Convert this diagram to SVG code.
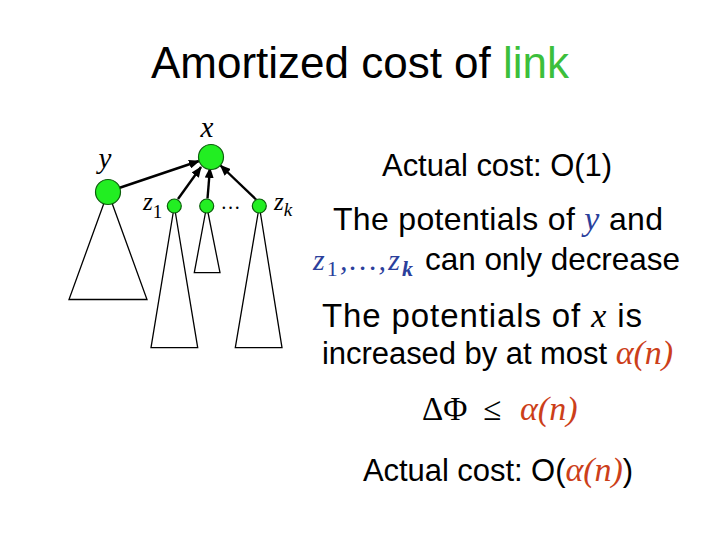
<svg xmlns="http://www.w3.org/2000/svg" width="720" height="540" viewBox="0 0 720 540">
<style>
.s{font-family:"Liberation Sans",Arial,sans-serif;fill:#000}
.m{font-family:"Liberation Serif","Times New Roman",serif;font-style:italic}
.b{fill:#2b3f9c}
.r{fill:#cc3f1a;font-family:"Liberation Serif","Times New Roman",serif;font-style:italic}
.tri{fill:none;stroke:#000;stroke-width:1.3}
.big{fill:#22ee22;stroke:#0b5e0b;stroke-width:1.2}
.edge{stroke:#000;stroke-width:2.4;fill:none;marker-end:url(#ah)}
</style>
<defs>
<marker id="ah" markerWidth="11" markerHeight="9" refX="10" refY="4.5" orient="auto" markerUnits="userSpaceOnUse">
<path d="M0,0 L11,4.5 L0,9 z" fill="#000"/>
</marker>
</defs>
<rect width="720" height="540" fill="#fff"/>
<text class="s" x="360" y="78" font-size="44" text-anchor="middle">Amortized cost of <tspan fill="#3cbf3c">link</tspan></text>

<g id="trees">
<polygon class="tri" points="108,192 69,299.5 147,299.5"/>
<polygon class="tri" points="174.3,206 151,347.7 197.7,347.7"/>
<polygon class="tri" points="206.7,206 194.3,272.7 220,272.7"/>
<polygon class="tri" points="259.3,206 235.3,347.7 282,347.7"/>
</g>
<g id="connectors">
<line class="edge" x1="119" y1="188" x2="199" y2="161"/>
<line class="edge" x1="178" y1="199" x2="201" y2="167"/>
<line class="edge" x1="207.5" y1="198.5" x2="210" y2="168"/>
<line class="edge" x1="256" y1="199.5" x2="220.5" y2="165.5"/>
</g>
<g id="node-x">
<circle class="big" cx="211" cy="157" r="12.5"/>
<text class="m" x="207" y="137" font-size="29" text-anchor="middle">x</text>
</g>
<g id="node-y">
<circle class="big" cx="108" cy="192" r="12.5"/>
<text class="m" x="105" y="168" font-size="29" text-anchor="middle">y</text>
</g>
<g id="node-z1">
<circle class="big" cx="174.3" cy="206" r="7"/>
<text class="m" x="143" y="210" font-size="25">z<tspan font-style="normal" font-size="19" dy="8">1</tspan></text>
</g>
<g id="node-mid">
<circle class="big" cx="206.7" cy="206" r="7"/>
<text class="m" x="222" y="209" font-size="20" fill="#000">…</text>
</g>
<g id="node-zk">
<circle class="big" cx="259.3" cy="206" r="7"/>
<text class="m" x="274" y="210" font-size="25">z<tspan font-size="19" dy="6">k</tspan></text>
</g>

<g id="texts">
<text class="s" x="382" y="176" font-size="31" textLength="230" lengthAdjust="spacing">Actual cost: O(1)</text>
<text class="s" x="333" y="230" font-size="32" textLength="330" lengthAdjust="spacing">The potentials of <tspan class="m b" font-size="34">y</tspan> and</text>
<text class="m b" x="313" y="270" font-size="30" textLength="100" lengthAdjust="spacing">z<tspan font-style="normal" font-size="22" dy="6">1</tspan><tspan dy="-6">,…,z</tspan><tspan font-size="22" font-weight="bold" dy="6">k</tspan></text>
<text class="s" x="425" y="270" font-size="31.5" textLength="255" lengthAdjust="spacing">can only decrease</text>
<text class="s" x="322" y="327" font-size="33" textLength="320" lengthAdjust="spacing">The potentials of <tspan class="m" font-size="34">x</tspan> is</text>
<text class="s" x="322" y="364" font-size="31" textLength="351" lengthAdjust="spacing">increased by at most <tspan class="r" font-size="34">α(n)</tspan></text>
<text x="422" y="420" font-size="33" font-family="Liberation Serif,serif">ΔΦ</text>
<text x="483" y="420" font-size="33" font-family="Liberation Serif,serif">≤</text>
<text class="r" x="520" y="420" font-size="34">α(n)</text>
<text class="s" x="363" y="481" font-size="31" textLength="270" lengthAdjust="spacing">Actual cost: O(<tspan class="r" font-size="34">α(n)</tspan>)</text>
</g>
</svg>
